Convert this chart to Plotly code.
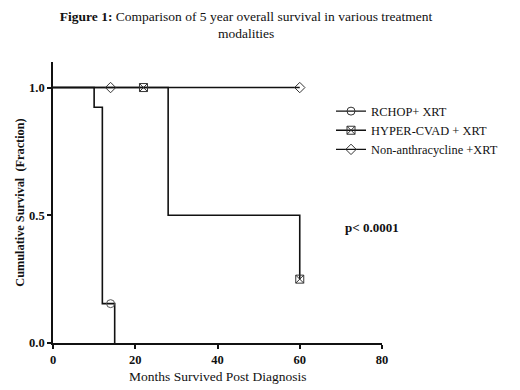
import plotly.graph_objects as go

# Step curves (event times / survival fraction)
rchop_t = [0, 10, 12, 15]
rchop_s = [1.0, 0.923, 0.154, 0.0]
hyper_t = [0, 28, 60]
hyper_s = [1.0, 0.5, 0.25]
nonan_t = [0, 60]
nonan_s = [1.0, 1.0]

# Censored observations
rchop_cx = [14]
rchop_cy = [0.154]
hyper_cx = [22, 60]
hyper_cy = [1.0, 0.25]
nonan_cx = [14, 60]
nonan_cy = [1.0, 1.0]

names = ["RCHOP+ XRT", "HYPER-CVAD + XRT", "Non-anthracycline +XRT"]
x_ticks = [0, 20, 40, 60, 80]
y_ticks = [0.0, 0.5, 1.0]

FONT = "Liberation Serif"
BLK = "#111111"

fig = go.Figure()

for t, s in [(rchop_t, rchop_s), (hyper_t, hyper_s), (nonan_t, nonan_s)]:
    fig.add_trace(go.Scatter(x=t, y=s, mode="lines", line=dict(color=BLK, width=1.6, shape="hv"),
                             showlegend=False, hoverinfo="skip"))

# censor markers
fig.add_trace(go.Scatter(x=rchop_cx, y=rchop_cy, mode="markers", showlegend=False,
                         marker=dict(symbol="circle-open", size=8, color="#555", line=dict(width=1))))
fig.add_trace(go.Scatter(x=hyper_cx, y=hyper_cy, mode="markers", showlegend=False,
                         marker=dict(symbol="square-x-open", size=8, color="#333", line=dict(width=1))))
fig.add_trace(go.Scatter(x=nonan_cx, y=nonan_cy, mode="markers", showlegend=False,
                         marker=dict(symbol="diamond-open", size=8, color="#333", line=dict(width=1))))

# legend entries
for nm, sym in zip(names, ["circle-open", "square-x-open", "diamond-open"]):
    fig.add_trace(go.Scatter(x=[None], y=[None], mode="lines+markers", name=nm,
                             line=dict(color=BLK, width=1.4),
                             marker=dict(symbol=sym, size=8, color="#333", line=dict(width=1))))

fig.update_layout(
    width=512, height=382,
    margin=dict(l=45, r=138, t=54, b=47),
    paper_bgcolor="white", plot_bgcolor="white",
    font=dict(family=FONT, color=BLK),
    title=dict(text="<b>Figure 1:</b> Comparison of 5 year overall survival in various treatment<br>modalities",
               x=0.465, xanchor="center", y=0.967, yanchor="top",
               font=dict(family=FONT, size=13.5, color=BLK)),
    legend=dict(x=0.845, y=0.877, xanchor="left", yanchor="top",
                font=dict(family=FONT, size=12.4, color=BLK),
                bgcolor="rgba(0,0,0,0)", itemwidth=30, tracegroupgap=0),
    xaxis=dict(range=[0, 80], tickvals=x_ticks, showgrid=False, zeroline=False, automargin=False,
               showline=True, linecolor=BLK, linewidth=1.6, ticks="outside", ticklen=4,
               tickwidth=1.5, tickcolor=BLK,
               tickfont=dict(family=FONT, size=12.5, color=BLK, weight="bold")),
    yaxis=dict(range=[0, 1.1], tickvals=y_ticks, tickformat=".1f", showgrid=False, zeroline=False,
               automargin=False,
               showline=True, linecolor=BLK, linewidth=1.6, ticks="outside", ticklen=4,
               tickwidth=1.5, tickcolor=BLK,
               tickfont=dict(family=FONT, size=12.5, color=BLK, weight="bold"),
               title=dict(text="<b>Cumulative Survival  (Fraction)</b>", standoff=2,
                          font=dict(family=FONT, size=12.3, color=BLK))),
)

fig.add_annotation(text="Months Survived Post Diagnosis", x=0.5, y=-0.12, xref="paper", yref="paper",
                   xanchor="center", yanchor="middle", showarrow=False,
                   font=dict(family=FONT, size=13.5, color=BLK))

fig.add_annotation(text="<b>p< 0.0001</b>", x=0.88, y=0.41, xref="paper", yref="paper",
                   xanchor="left", yanchor="middle", showarrow=False,
                   font=dict(family=FONT, size=13, color=BLK))

fig.write_html("out.html")
